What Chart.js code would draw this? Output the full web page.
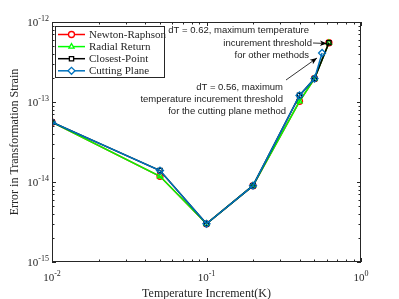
<!DOCTYPE html>
<html>
<head>
<meta charset="utf-8">
<script src="https://cdn.jsdelivr.net/npm/chart.js@4.4.0/dist/chart.umd.min.js"></script>
<style>
  html, body { margin: 0; padding: 0; background: #fff; }
  #wrap { width: 399px; height: 299px; }
</style>
</head>
<body>
<div id="wrap"><canvas id="chart" width="399" height="299"></canvas></div>
<script>
// temperature increments (K)
var dT = [0.01, 0.05, 0.1, 0.2, 0.4, 0.5, 0.62];
var dTCutting = [0.01, 0.05, 0.1, 0.2, 0.4, 0.5, 0.56];

// error in transformation strain
var newtonRaphson = [5.6e-14, 1.18e-14, 3.0e-15, 9.0e-15, 1.02e-13, 1.96e-13, 5.5e-13];
var radialReturn  = [5.6e-14, 1.18e-14, 3.0e-15, 9.0e-15, 1.02e-13, 1.96e-13, 5.5e-13];
var closestPoint  = [5.6e-14, 1.39e-14, 3.0e-15, 9.0e-15, 1.21e-13, 1.96e-13, 5.5e-13];
var cuttingPlane  = [5.6e-14, 1.39e-14, 3.0e-15, 9.0e-15, 1.21e-13, 1.96e-13, 4.1e-13];

var xTickExp = [-2, -1, 0];
var yTickExp = [-15, -14, -13, -12];

var SERIF = '"Liberation Serif", "Times New Roman", serif';
var SANS = '"Liberation Sans", Arial, sans-serif';
var AXIS = '#262626';

function pts(xs, ys) {
    return xs.map(function (x, i) { return {x: x, y: ys[i]}; });
}

// order: lower number is painted on top (blue last, red first)
function series(label, xs, ys, color, style, order) {
    return {
        label: label,
        data: pts(xs, ys),
        order: order,
        borderColor: color,
        backgroundColor: color,
        borderWidth: 1.5,
        pointStyle: style,
        pointRadius: style === 'rectRot' ? 3.5 : 3,
        pointBorderColor: color,
        pointBackgroundColor: 'rgba(0,0,0,0)',
        pointBorderWidth: 1.3,
        tension: 0
    };
}

var datasets = [
    series('Newton-Raphson', dT, newtonRaphson, '#ff0000', 'circle', 3),
    series('Radial Return', dT, radialReturn, '#00ff00', 'triangle', 2),
    series('Closest-Point', dT, closestPoint, '#000000', 'rect', 1),
    series('Cutting Plane', dTCutting, cuttingPlane, '#0072bd', 'rectRot', 0)
];

function drawPow(ctx, x, y, exp, align) {
    // "10" with superscript exponent
    ctx.font = '11px ' + SERIF;
    var base = '10';
    var wb = ctx.measureText(base).width;
    ctx.font = '8px ' + SERIF;
    var e = String(exp);
    var we = ctx.measureText(e).width;
    var total = wb + we;
    var x0 = align === 'right' ? x - total : x - total / 2;
    ctx.textAlign = 'left';
    ctx.textBaseline = 'alphabetic';
    ctx.fillStyle = AXIS;
    ctx.font = '11px ' + SERIF;
    ctx.fillText(base, x0, y);
    ctx.font = '8px ' + SERIF;
    ctx.fillText(e, x0 + wb, y - 5);
}

function arrow(ctx, x1, y1, x2, y2) {
    ctx.strokeStyle = '#000';
    ctx.fillStyle = '#000';
    ctx.lineWidth = 0.8;
    ctx.beginPath();
    ctx.moveTo(x1, y1);
    ctx.lineTo(x2, y2);
    ctx.stroke();
    var a = Math.atan2(y2 - y1, x2 - x1);
    var L = 7, W = 2.8;
    ctx.beginPath();
    ctx.moveTo(x2, y2);
    ctx.lineTo(x2 - L * Math.cos(a) + W * Math.sin(a), y2 - L * Math.sin(a) - W * Math.cos(a));
    ctx.lineTo(x2 - L * Math.cos(a) * 0.75, y2 - L * Math.sin(a) * 0.75);
    ctx.lineTo(x2 - L * Math.cos(a) - W * Math.sin(a), y2 - L * Math.sin(a) + W * Math.cos(a));
    ctx.closePath();
    ctx.fill();
}

var axesPlugin = {
    id: 'matlabAxes',
    afterDatasetsDraw: function (chart) {
        var ctx = chart.ctx;
        var a = chart.chartArea;
        var xs = chart.scales.x, ys = chart.scales.y;
        ctx.save();

        // box
        ctx.strokeStyle = AXIS;
        ctx.lineWidth = 1;
        ctx.strokeRect(a.left + 0.5, a.top + 0.5, a.right - a.left - 1, a.bottom - a.top - 1);

        // ticks, inward, on all four sides
        ctx.beginPath();
        xTickExp.forEach(function (ex, i) {
            for (var m = 1; m <= 9; m++) {
                if (i === xTickExp.length - 1 && m > 1) break;
                var px = Math.round(xs.getPixelForValue(m * Math.pow(10, ex))) + 0.5;
                var len = m === 1 ? 4 : 2.5;
                ctx.moveTo(px, a.bottom); ctx.lineTo(px, a.bottom - len);
                ctx.moveTo(px, a.top); ctx.lineTo(px, a.top + len);
            }
        });
        yTickExp.forEach(function (ex, i) {
            for (var m = 1; m <= 9; m++) {
                if (i === yTickExp.length - 1 && m > 1) break;
                var py = Math.round(ys.getPixelForValue(m * Math.pow(10, ex))) + 0.5;
                var len = m === 1 ? 4 : 2.5;
                ctx.moveTo(a.left, py); ctx.lineTo(a.left + len, py);
                ctx.moveTo(a.right, py); ctx.lineTo(a.right - len, py);
            }
        });
        ctx.stroke();

        // tick labels
        xTickExp.forEach(function (ex) {
            drawPow(ctx, xs.getPixelForValue(Math.pow(10, ex)), a.bottom + 19, ex, 'center');
        });
        yTickExp.forEach(function (ex) {
            drawPow(ctx, a.left - 3, ys.getPixelForValue(Math.pow(10, ex)) + 4, ex, 'right');
        });

        // axis titles
        ctx.fillStyle = AXIS;
        ctx.font = '12px ' + SERIF;
        ctx.textAlign = 'center';
        ctx.textBaseline = 'alphabetic';
        ctx.fillText('Temperature Increment(K)', (a.left + a.right) / 2, 297);
        ctx.save();
        ctx.translate(18, (a.top + a.bottom) / 2);
        ctx.rotate(-Math.PI / 2);
        ctx.fillText('Error in Transformation Strain', 0, 0);
        ctx.restore();

        // legend
        var lx = 55, ly = 26, lw = 109, lh = 51;
        ctx.fillStyle = '#fff';
        ctx.fillRect(lx, ly, lw, lh);
        ctx.strokeStyle = AXIS;
        ctx.lineWidth = 1;
        ctx.strokeRect(lx + 0.5, ly + 0.5, lw, lh);
        chart.data.datasets.forEach(function (ds, i) {
            var cy = 34.5 + i * 12.1;
            ctx.strokeStyle = ds.borderColor;
            ctx.lineWidth = 1.5;
            ctx.beginPath();
            ctx.moveTo(58, cy); ctx.lineTo(85, cy);
            ctx.stroke();
            ctx.lineWidth = ds.pointBorderWidth;
            ctx.fillStyle = '#fff';
            Chart.helpers.drawPoint(ctx, {
                pointStyle: ds.pointStyle, radius: ds.pointRadius, rotation: 0,
                borderWidth: ds.pointBorderWidth
            }, 71.5, cy);
            ctx.fillStyle = AXIS;
            ctx.font = '11px ' + SERIF;
            ctx.textAlign = 'left';
            ctx.textBaseline = 'middle';
            ctx.fillText(ds.label, 89, cy + 0.5);
        });

        // annotations
        ctx.fillStyle = '#222';
        ctx.font = '9.5px ' + SANS;
        ctx.textAlign = 'right';
        ctx.textBaseline = 'middle';
        ctx.fillText('dT = 0.62, maximum temperature', 309, 30);
        ctx.fillText('incurement threshold', 312, 43);
        ctx.fillText('for other methods', 309, 55);
        arrow(ctx, 313, 43, 327, 43.5);

        ctx.fillStyle = '#222';
        ctx.fillText('dT = 0.56, maximum', 283, 87);
        ctx.fillText('temperature incurement threshold', 283, 99);
        ctx.fillText('for the cutting plane method', 286, 111);
        arrow(ctx, 286, 80, 317, 58);

        ctx.restore();
    }
};

new Chart(document.getElementById('chart'), {
    type: 'line',
    data: {datasets: datasets},
    options: {
        responsive: false,
        animation: false,
        devicePixelRatio: 1,
        layout: {padding: {left: 52, top: 22, right: 38, bottom: 37}},
        plugins: {legend: {display: false}, tooltip: {enabled: false}},
        scales: {
            x: {type: 'logarithmic', min: 0.01, max: 1, display: false},
            y: {type: 'logarithmic', min: 1e-15, max: 1e-12, display: false}
        }
    },
    plugins: [axesPlugin]
});
</script>
</body>
</html>
